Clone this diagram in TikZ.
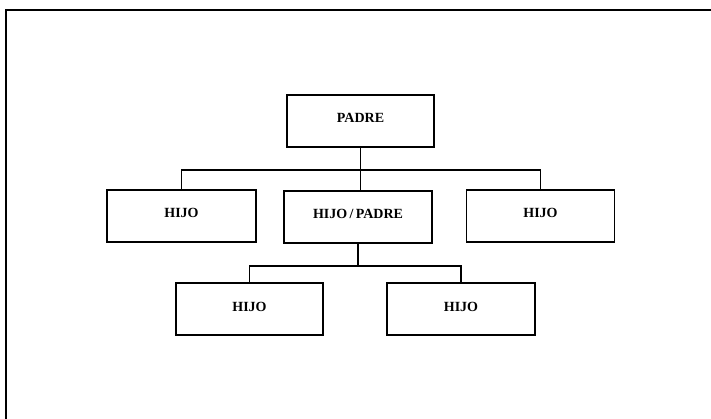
\documentclass[tikz,border=0pt]{standalone}
\usepackage{fontspec}
\setmainfont{Liberation Serif}
\begin{document}
\begin{tikzpicture}[x=1pt,y=-1pt,
  box/.style={draw=black,line width=1.8pt,rectangle,minimum height=52pt,inner sep=0pt,
    text height=10pt,text depth=6pt,
    font=\bfseries\fontsize{14}{16}\selectfont},
  conn/.style={draw=black,line width=1.7pt},
  frame/.style={draw=black,line width=2.8pt}]
\useasboundingbox (0,0) rectangle (711,419);
\fill[white] (0,0) rectangle (711,419);
% frame
\draw[frame] (6,419) -- (6,10) -- (711,10);
% boxes
\node[box,minimum width=147pt] (P)  at (360.5,121) {PADRE};
\node[box,minimum width=149pt] (H1) at (181.5,216) {HIJO};
\node[box,minimum width=148pt] (HP) at (358,217) {HIJO\,/\,PADRE};
\node[box,minimum width=148pt] (H3) at (540.5,216) {HIJO};
\node[box,minimum width=147pt] (H4) at (249.5,309) {HIJO};
\node[box,minimum width=148pt] (H5) at (461,309) {HIJO};
% junction levels
\coordinate (j1) at (0,170);
\coordinate (j2) at (0,266);
% connectors
\draw[conn] (P.south) -- (P.south |- HP.north);
\draw[conn] (H1.north) |- (P.south |- j1) -| (H3.north);
\draw[conn] (HP.south) -- (HP.south |- j2);
\draw[conn] (H4.north) |- (HP.south |- j2) -| (H5.north);
\end{tikzpicture}
\end{document}
